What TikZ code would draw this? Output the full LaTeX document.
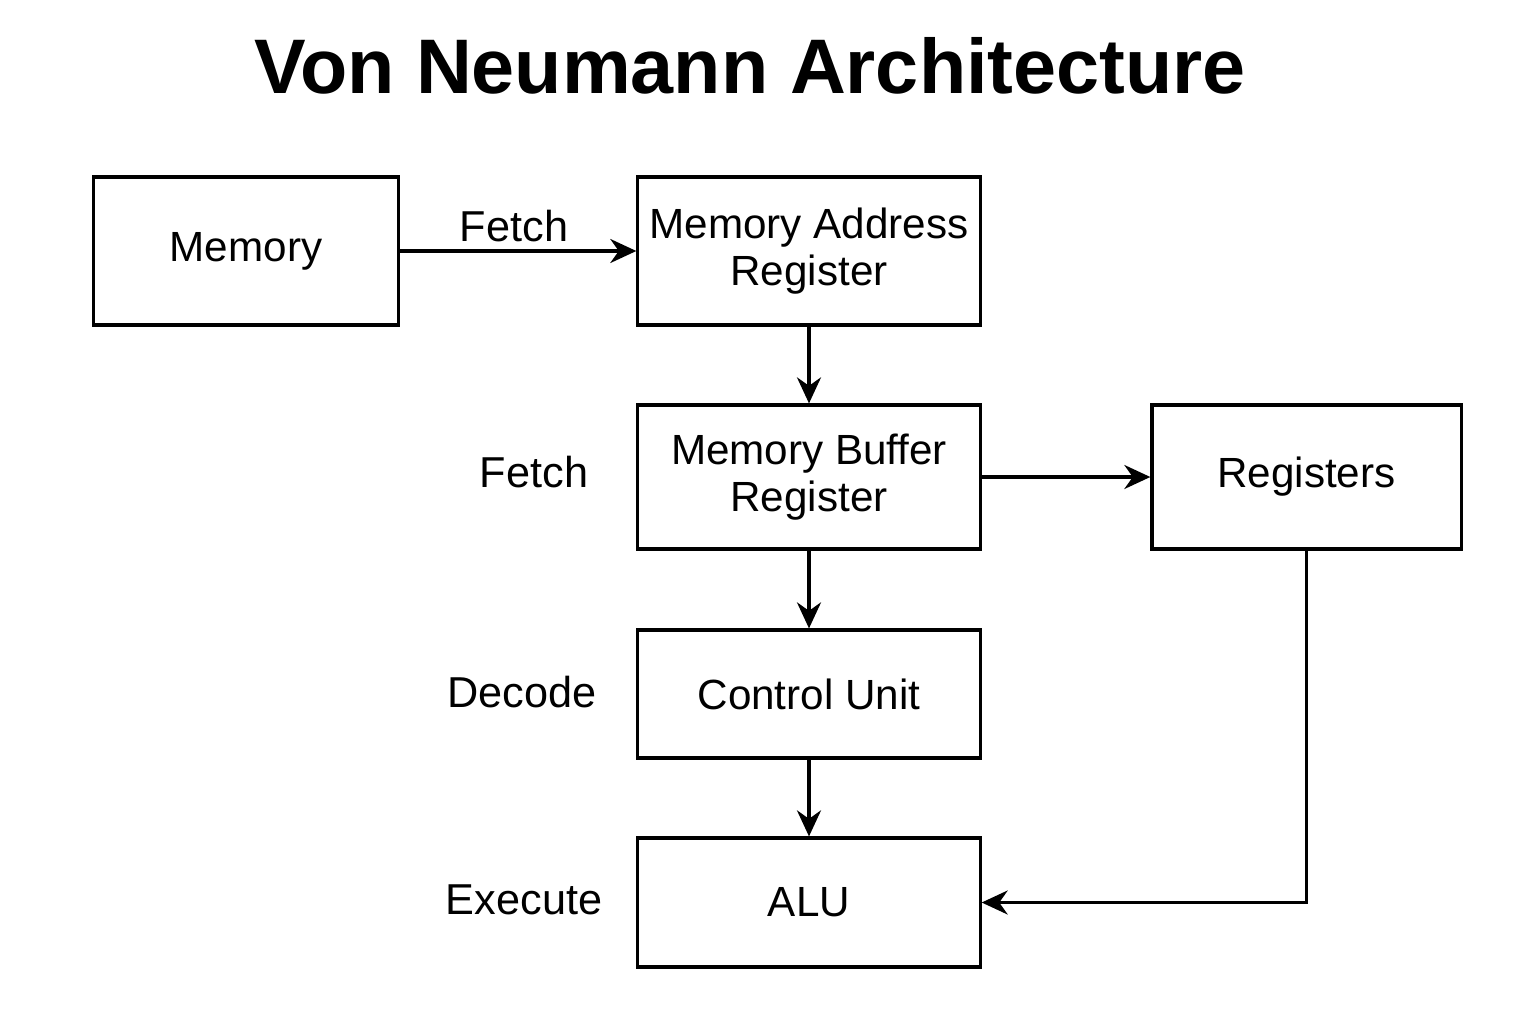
\documentclass[tikz,border=0pt]{standalone}
\usepackage{fontspec}
\setmainfont{Liberation Sans}
\usetikzlibrary{arrows.meta}
\begin{document}
\begin{tikzpicture}[x=0.01cm,y=-0.01cm,
  box/.style={draw,line width=0.9pt,inner sep=0pt,align=center,font=\fontsize{12}{13.5}\selectfont},
  lbl/.style={font=\fontsize{12.3}{15}\selectfont,inner sep=0pt},
  conn/.style={line width=0.9pt,-{Stealth[length=0.26cm,width=0.24cm]}}]
\useasboundingbox (0,0) rectangle (1536,1024);
\node[font=\fontsize{22}{26}\selectfont\bfseries] (title) at (750,66) {Von Neumann Architecture};
\node[box,minimum width=3.04cm,minimum height=1.48cm] (mem) at (246,251) {Memory};
\node[box,minimum width=3.42cm,minimum height=1.48cm] (mar) at (809,251) {Memory Address\\Register};
\node[box,minimum width=3.42cm,minimum height=1.44cm] (mbr) at (809,477) {Memory Buffer\\Register};
\node[box,minimum width=3.09cm,minimum height=1.44cm] (reg) at (1306.5,477) {Registers};
\node[box,minimum width=3.42cm,minimum height=1.28cm] (cu) at (809,694) {Control Unit};
\node[box,minimum width=3.42cm,minimum height=1.29cm] (alu) at (809,902.5) {ALU};
\node[lbl] (f1) at (514,226) {Fetch};
\node[lbl] (f2) at (534,472) {Fetch};
\node[lbl] (dec) at (522,692) {Decode};
\node[lbl] (exe) at (524,900) {Execute};
\draw[conn] (mem.east) -- (mar.west);
\draw[conn] (mar.south) -- (mbr.north);
\draw[conn] (mbr.east) -- (reg.west);
\draw[conn] (mbr.south) -- (cu.north);
\draw[conn] (cu.south) -- (alu.north);
\draw[conn] (reg.south) |- (alu.east);
\end{tikzpicture}
\end{document}
